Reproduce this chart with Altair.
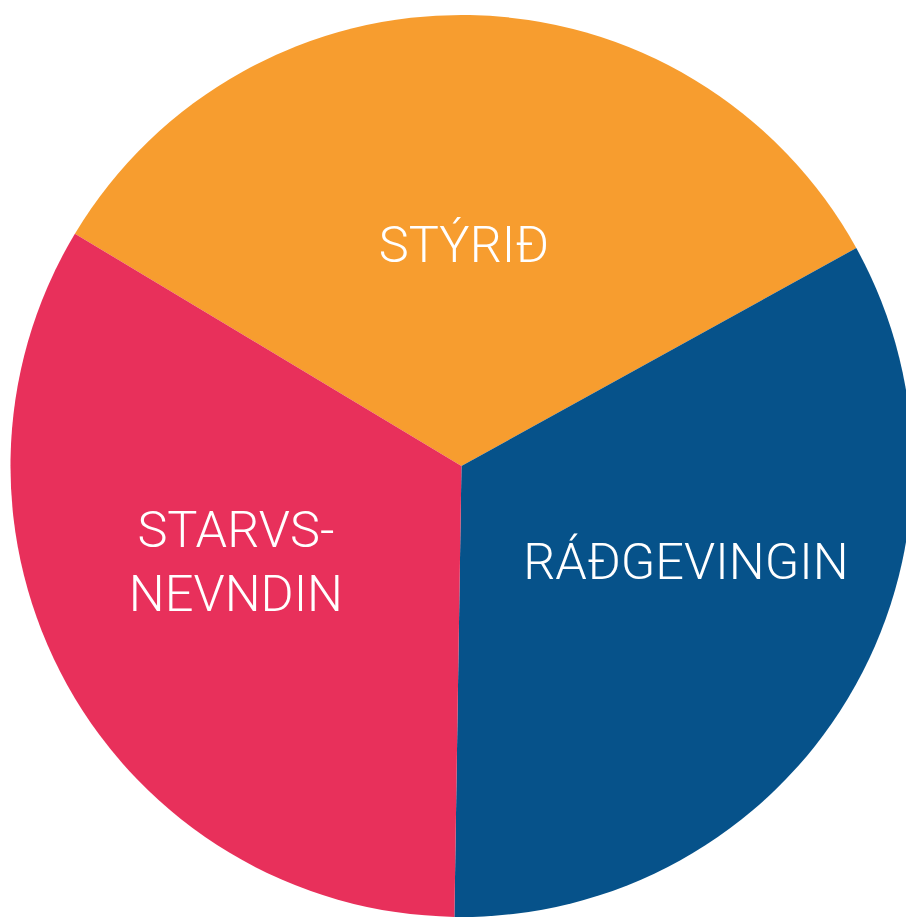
import math
import altair as alt
import pandas as pd

labels = ["STÝRIÐ", "RÁÐGEVINGIN", "STARVS-\nNEVNDIN"]
values = [120.1, 119.8, 120.1]
colors = ["#F79D2F", "#06528A", "#E8305B"]
order = [0, 1, 2]

df = pd.DataFrame({"label": labels, "value": values, "order": order})

start = math.radians(-59.0)
theta_scale = alt.Scale(range=[start, start + 2 * math.pi], domain=[0, 360])
cx, cy = 457.5, 458
R = 455

pie = alt.Chart(df).mark_arc(outerRadius=R, stroke=None).encode(
    theta=alt.Theta("value:Q", stack=True, scale=theta_scale),
    order=alt.Order("order:Q"),
    x=alt.value(cx),
    y=alt.value(cy),
    color=alt.Color("label:N", scale=alt.Scale(domain=labels, range=colors), legend=None),
)

text_base = alt.Chart(df).transform_window(
    cum="sum(value)", sort=[alt.SortField("order")], frame=[None, 0]
).transform_calculate(mid="datum.cum - datum.value / 2")

offsets = {0: (-1.7, 9), 1: (29.3, -19), 2: (-26.5, -45)}
layers = [pie]
for i, (ddx, ddy) in offsets.items():
    layers.append(
        text_base.transform_filter(alt.datum.order == i).mark_text(
            radius=230, dx=ddx, dy=ddy, font="Roboto", fontWeight=300,
            fontSize=51, color="white", align="center", baseline="middle",
            lineBreak="\n", lineHeight=65,
        ).encode(
            theta=alt.Theta("mid:Q", stack=None, scale=theta_scale),
            x=alt.value(cx),
            y=alt.value(cy),
            text="label:N",
        )
    )

chart = alt.layer(*layers).properties(
    width=906, height=911, padding=0, autosize="none"
).configure_view(stroke=None)

chart.save("out.html", embed_options={"renderer": "svg", "actions": False})
